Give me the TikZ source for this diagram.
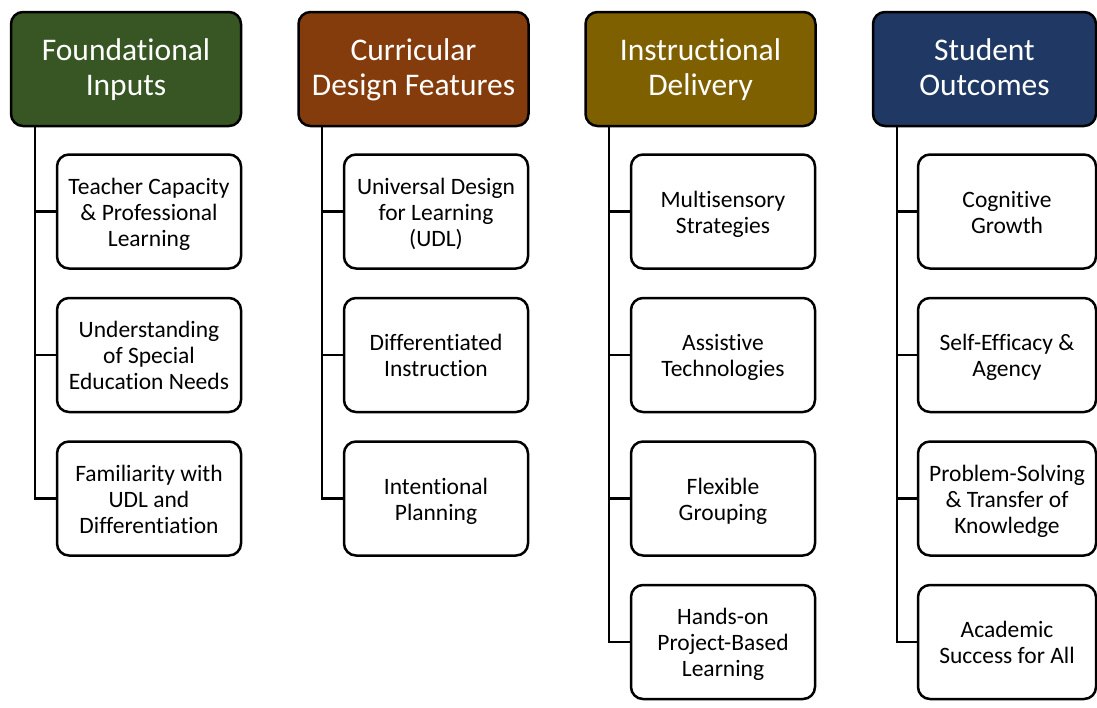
\documentclass[tikz,border=0pt]{standalone}
\usepackage{fontspec}
\setmainfont{Carlito}[Ligatures=NoCommon]
\definecolor{cgreen}{HTML}{375623}
\definecolor{cbrown}{HTML}{843C0C}
\definecolor{colive}{HTML}{7F6000}
\definecolor{cnavy}{HTML}{1F3864}
\newcommand{\htxt}[1]{\begin{tabular}{@{}c@{}}\rule{0pt}{28.5pt}#1\rule[-10.5pt]{0pt}{0pt}\end{tabular}}
\newcommand{\ktxt}[1]{\begin{tabular}{@{}c@{}}\rule{0pt}{25.7pt}#1\rule[-7.8pt]{0pt}{0pt}\end{tabular}}
\begin{document}
\begin{tikzpicture}[x=1pt,y=-1pt,
  hdr/.style={draw=black,line width=2.5pt,rounded corners=12pt,minimum width=#1,minimum height=114pt,inner sep=0pt,text=white,font=\fontsize{31.5}{35}\selectfont},
  hdr/.default=230pt,
  kid/.style={draw=black,line width=2.5pt,rounded corners=12pt,fill=white,minimum width=#1,minimum height=114pt,inner sep=0pt,text=black,font=\fontsize{23.5}{26}\selectfont},
  kid/.default=184pt,
  conn/.style={line width=2.5pt,line cap=rect}]
\useasboundingbox (0,0) rectangle (1097,707);
% headers
\node[hdr,fill=cgreen] (h1) at (126,69) {\htxt{Foundational\\Inputs}};
\node[hdr,fill=cbrown] (h2) at (413.5,69) {\htxt{Curricular\\Design Features}};
\node[hdr,fill=colive] (h3) at (700.5,69) {\htxt{Instructional\\Delivery}};
\node[hdr=223pt,fill=cnavy] (h4) at (984.5,69) {\htxt{Student\\Outcomes}};
% column 1
\node[kid] (a1) at (149,211.5) {\ktxt{Teacher Capacity\\\& Professional\\Learning}};
\node[kid] (a2) at (149,355) {\ktxt{Understanding\\of Special\\Education Needs}};
\node[kid] (a3) at (149,498.5) {\ktxt{Familiarity with\\UDL and\\Differentiation}};
% column 2
\node[kid] (b1) at (436,211.5) {\ktxt{Universal Design\\for Learning\\(UDL)}};
\node[kid] (b2) at (436,355) {\ktxt{Differentiated\\Instruction}};
\node[kid] (b3) at (436,498.5) {\ktxt{Intentional\\Planning}};
% column 3
\node[kid] (c1) at (723,211.5) {\ktxt{Multisensory\\Strategies}};
\node[kid] (c2) at (723,355) {\ktxt{Assistive\\Technologies}};
\node[kid] (c3) at (723,498.5) {\ktxt{Flexible\\Grouping}};
\node[kid] (c4) at (723,642) {\ktxt{Hands-on\\Project-Based\\Learning}};
% column 4
\node[kid=178pt] (d1) at (1007,211.5) {\ktxt{Cognitive\\Growth}};
\node[kid=178pt] (d2) at (1007,355) {\ktxt{Self-Efficacy \&\\Agency}};
\node[kid=178pt] (d3) at (1007,498.5) {\ktxt{Problem-Solving\\\& Transfer of\\Knowledge}};
\node[kid=178pt] (d4) at (1007,642) {\ktxt{Academic\\Success for All}};
% connectors
\coordinate (s1) at (35,0);
\coordinate (s2) at (322,0);
\coordinate (s3) at (609,0);
\coordinate (s4) at (897,0);
\draw[conn] (s1 |- h1.south) |- (a3.west);
\draw[conn] (s1 |- a1.west) -- (a1.west);
\draw[conn] (s1 |- a2.west) -- (a2.west);
\draw[conn] (s2 |- h2.south) |- (b3.west);
\draw[conn] (s2 |- b1.west) -- (b1.west);
\draw[conn] (s2 |- b2.west) -- (b2.west);
\draw[conn] (s3 |- h3.south) |- (c4.west);
\draw[conn] (s3 |- c1.west) -- (c1.west);
\draw[conn] (s3 |- c2.west) -- (c2.west);
\draw[conn] (s3 |- c3.west) -- (c3.west);
\draw[conn] (s4 |- h4.south) |- (d4.west);
\draw[conn] (s4 |- d1.west) -- (d1.west);
\draw[conn] (s4 |- d2.west) -- (d2.west);
\draw[conn] (s4 |- d3.west) -- (d3.west);
\end{tikzpicture}
\end{document}
